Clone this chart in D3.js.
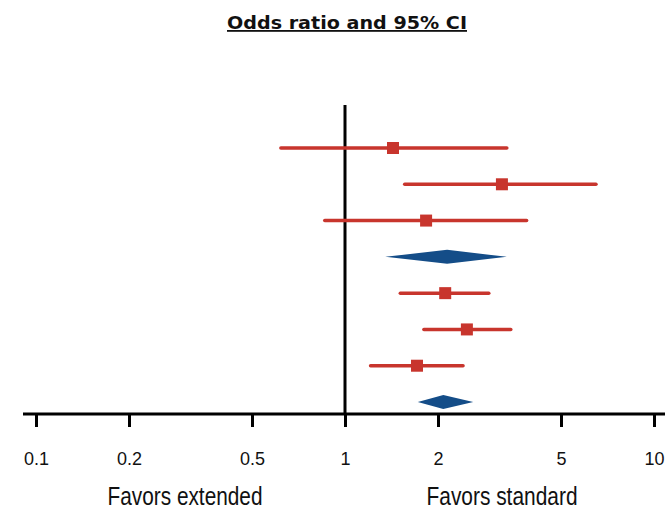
<!DOCTYPE html>
<html>
<head>
<meta charset="utf-8">
<script src="https://cdn.jsdelivr.net/npm/d3@7"></script>
<style>
  body { margin: 0; background: #fff; }
  svg { display: block; }
</style>
</head>
<body>
<svg width="669" height="509"></svg>
<script>
// one row per line of the forest plot, top to bottom
var rowType = ["study", "study", "study", "pooled", "study", "study", "study", "pooled"];
var oddsRatio = [1.43, 3.22, 1.83, 2.14, 2.11, 2.48, 1.71, 2.08];
var ciLow = [0.62, 1.56, 0.86, 1.35, 1.51, 1.80, 1.21, 1.72];
var ciHigh = [3.34, 6.49, 3.87, 3.34, 2.92, 3.44, 2.41, 2.60];

var tickValues = [0.1, 0.2, 0.5, 1, 2, 5, 10];
var titleText = "Odds ratio and 95% CI";
var leftLabel = "Favors extended";
var rightLabel = "Favors standard";

var red = "#c8352d";
var blue = "#144d88";

var svg = d3.select("svg");

var x = d3.scaleLog()
          .domain([0.1, 10])
          .range([36, 654]);

var y = d3.scalePoint()
          .domain(d3.range(rowType.length))
          .range([148, 402]);

var axisY = 414;

// title
svg.append("text")
    .attr("x", 347)
    .attr("y", 29)
    .attr("text-anchor", "middle")
    .attr("font-family", "DejaVu Sans")
    .attr("font-weight", "bold")
    .attr("font-size", 18)
    .attr("textLength", 240)
    .attr("lengthAdjust", "spacingAndGlyphs")
    .attr("text-decoration", "underline")
    .attr("fill", "#111")
    .text(titleText);

// reference line at OR = 1
svg.append("line")
    .attr("x1", x(1)).attr("x2", x(1))
    .attr("y1", 105).attr("y2", axisY)
    .attr("stroke", "#000")
    .attr("stroke-width", 3);

// axis
var axis = svg.append("g")
    .attr("transform", "translate(0," + axisY + ")")
    .call(d3.axisBottom(x)
            .tickValues(tickValues)
            .tickFormat(d3.format(""))
            .tickSize(13)
            .tickSizeOuter(0)
            .tickPadding(25));

axis.select(".domain").remove();
axis.selectAll(".tick line").attr("stroke", "#000").attr("stroke-width", 3);
axis.selectAll(".tick text")
    .attr("font-family", "Liberation Sans")
    .attr("font-size", 18)
    .attr("fill", "#111");

svg.append("line")
    .attr("x1", 23).attr("x2", 665)
    .attr("y1", axisY).attr("y2", axisY)
    .attr("stroke", "#000")
    .attr("stroke-width", 3);

var rows = d3.range(rowType.length);

// confidence interval lines for the studies
svg.selectAll(".ci")
    .data(rows.filter(function(i) { return rowType[i] == "study"; }))
    .enter()
    .append("line")
    .attr("class", "ci")
    .attr("x1", function(i) { return x(ciLow[i]); })
    .attr("x2", function(i) { return x(ciHigh[i]); })
    .attr("y1", function(i) { return y(i); })
    .attr("y2", function(i) { return y(i); })
    .attr("stroke", red)
    .attr("stroke-width", 3.5)
    .attr("stroke-linecap", "round");

svg.selectAll(".pt")
    .data(rows.filter(function(i) { return rowType[i] == "study"; }))
    .enter()
    .append("rect")
    .attr("class", "pt")
    .attr("x", function(i) { return x(oddsRatio[i]) - 6; })
    .attr("y", function(i) { return y(i) - 6; })
    .attr("width", 12)
    .attr("height", 12)
    .attr("fill", red);

// pooled estimates as diamonds
svg.selectAll(".diamond")
    .data(rows.filter(function(i) { return rowType[i] == "pooled"; }))
    .enter()
    .append("path")
    .attr("class", "diamond")
    .attr("d", function(i) {
      var cy = y(i);
      return "M" + x(ciLow[i]) + "," + cy +
             "L" + x(oddsRatio[i]) + "," + (cy - 7) +
             "L" + x(ciHigh[i]) + "," + cy +
             "L" + x(oddsRatio[i]) + "," + (cy + 7) + "Z";
    })
    .attr("fill", blue);

// direction labels
svg.append("text")
    .attr("x", 185)
    .attr("y", 505)
    .attr("text-anchor", "middle")
    .attr("font-family", "Liberation Sans Narrow, Liberation Sans")
    .attr("font-size", 25)
    .attr("textLength", 155)
    .attr("lengthAdjust", "spacingAndGlyphs")
    .attr("fill", "#111")
    .text(leftLabel);

svg.append("text")
    .attr("x", 502)
    .attr("y", 505)
    .attr("text-anchor", "middle")
    .attr("font-family", "Liberation Sans Narrow, Liberation Sans")
    .attr("font-size", 25)
    .attr("textLength", 151)
    .attr("lengthAdjust", "spacingAndGlyphs")
    .attr("fill", "#111")
    .text(rightLabel);
</script>
</body>
</html>
